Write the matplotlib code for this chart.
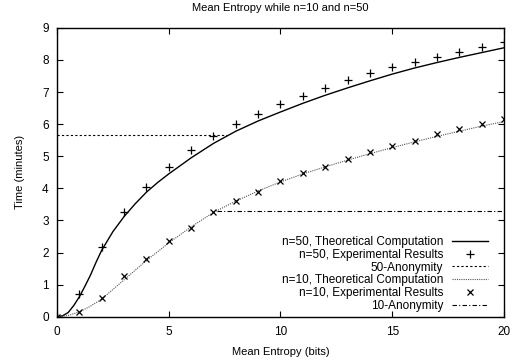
import matplotlib

matplotlib.use("Agg")
import matplotlib.pyplot as plt

plt.rcParams["font.family"] = ["Liberation Sans", "DejaVu Sans"]

# n=50 experimental results (+)
exp50_x = list(range(0, 21))
exp50_y = [0.0, 0.71, 2.17, 3.26, 4.04, 4.66, 5.18, 5.62, 6.0, 6.33, 6.63,
           6.88, 7.13, 7.38, 7.58, 7.77, 7.94, 8.1, 8.25, 8.4, 8.55]

# n=10 experimental results (x)
exp10_x = list(range(0, 21))
exp10_y = [0.0, 0.14, 0.57, 1.28, 1.79, 2.35, 2.78, 3.26, 3.6, 3.9, 4.24,
           4.48, 4.68, 4.91, 5.12, 5.32, 5.49, 5.68, 5.85, 6.0, 6.16]

# theoretical curves
th50_x = [0, 0.25, 0.5, 0.75, 1, 1.25, 1.5, 1.75, 2, 2.5, 3, 3.5, 4, 4.5, 5,
          6, 7, 8, 9, 10, 11, 12, 13, 14, 15, 16, 17, 18, 19, 20]
th50_y = [0, 0.03, 0.13, 0.35, 0.62, 0.95, 1.3, 1.7, 2.07, 2.65, 3.12, 3.52,
          3.88, 4.18, 4.45, 4.95, 5.4, 5.78, 6.1, 6.38, 6.65, 6.9, 7.13, 7.35,
          7.56, 7.75, 7.92, 8.08, 8.23, 8.38]
th10_x = [0, 0.5, 1, 1.5, 2, 3, 4, 5, 6, 7, 8, 9, 10, 11, 12, 13, 14, 15, 16,
          17, 18, 19, 20]
th10_y = [0, 0.04, 0.15, 0.33, 0.55, 1.15, 1.75, 2.3, 2.8, 3.25, 3.6, 3.92,
          4.2, 4.45, 4.67, 4.88, 5.08, 5.27, 5.45, 5.62, 5.78, 5.94, 6.08]

# anonymity thresholds: (x_start, x_end, level)
anon50 = (0, 7.6, 5.66)
anon10 = (7.15, 20, 3.31)

fig = plt.figure(figsize=(5.18, 3.62), dpi=100)
ax = fig.add_axes([0.110, 0.125, 0.863, 0.798])

ax.plot(th50_x, th50_y, "-", color="black", lw=1.0,
        label="n=50, Theoretical Computation")
ax.plot(exp50_x, exp50_y, "+", color="black", ms=6, mew=0.9, ls="none",
        label="n=50, Experimental Results")
ax.plot(anon50[:2], [anon50[2]] * 2, color="black", lw=0.8, dashes=(2, 2),
        label="50-Anonymity")
ax.plot(th10_x, th10_y, color="#555555", lw=0.8, dashes=(1, 1),
        label="n=10, Theoretical Computation")
ax.plot(exp10_x, exp10_y, "x", color="black", ms=5, mew=0.9, ls="none",
        label="n=10, Experimental Results")
ax.plot(anon10[:2], [anon10[2]] * 2, color="black", lw=0.8,
        dashes=(4, 2, 1, 2), label="10-Anonymity")

ax.set_xlim(0, 20)
ax.set_ylim(0, 9)
ax.set_xticks([0, 5, 10, 15, 20])
ax.set_yticks(range(0, 10))
ax.tick_params(direction="in", top=True, right=True, length=4, width=0.8,
               labelsize=8.5)
ax.tick_params(axis="x", pad=7)
ax.tick_params(axis="y", pad=6)
for sp in ax.spines.values():
    sp.set_linewidth(1.0)

ax.set_xlabel("Mean Entropy (bits)", fontsize=8, labelpad=6)
ax.set_ylabel("Time (minutes)", fontsize=8, labelpad=12)
ax.set_title("Mean Entropy while n=10 and n=50", fontsize=8, pad=12)

ax.legend(loc="lower right", bbox_to_anchor=(0.985, -0.015), frameon=False,
          markerfirst=False, fontsize=8.5, handlelength=3.0, handletextpad=0.8,
          labelspacing=0.06, borderpad=0.3)

fig.savefig("out.png", dpi=100)
